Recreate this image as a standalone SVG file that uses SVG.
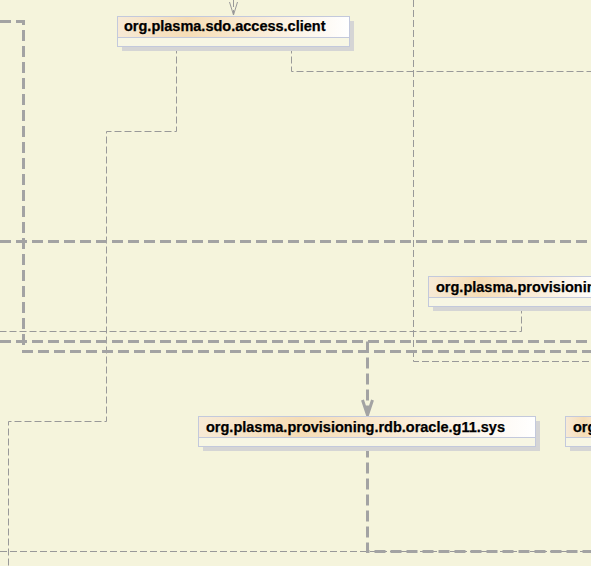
<svg xmlns="http://www.w3.org/2000/svg" width="591" height="566" viewBox="0 0 591 566">
<defs>
<linearGradient id="hdr" x1="0" y1="0" x2="1" y2="0">
<stop offset="0" stop-color="#F7EAD6"/>
<stop offset="0.3" stop-color="#F6DDB6"/>
<stop offset="1" stop-color="#FFFFFF"/>
</linearGradient>
<style>
.bg{fill:#F5F4DC}
.shadow{fill:#D5D5D5}
.box{fill:#F7F6E4;stroke:#C3C9DC;stroke-width:1}
.head{fill:url(#hdr)}
.div{stroke:#C3C9DC;stroke-width:1}
.lbl{font-family:"Liberation Sans",Arial,sans-serif;font-weight:bold;font-size:14.5px;fill:#000;stroke:#000;stroke-width:0.25}
.thin{fill:none;stroke:#999999;stroke-width:1;stroke-dasharray:7,3}
.thick{fill:none;stroke:#A3A3A3;stroke-width:3;stroke-dasharray:11,5}
.ahthin{fill:none;stroke:#999999;stroke-width:1}
.ahthick{fill:none;stroke:#A3A3A3;stroke-width:3}
</style>
</defs>
<rect class="bg" x="0" y="0" width="591" height="566"/>
<g id="connectors">
<path class="thin" d="M233.5,0 V15"/>
<path class="ahthin" d="M229.5,2 L233.5,15 L237.5,2"/>
<path class="thin" d="M176.5,46.5 V131.5 H106.5 V421.5 H8.5 V566"/>
<path class="thin" d="M291.5,46.5 V71.5 H591"/>
<path class="thin" d="M413.5,0 V361.5 H591"/>
<path class="thin" d="M521.5,306.5 V331.5 H0"/>
<path class="thin" d="M0,551.5 H591"/>
<path class="thick" d="M0,21.5 H23.5 V351.5 H591"/>
<path class="thick" d="M0,241.5 H591"/>
<path class="thick" d="M0,341.5 H591"/>
<path class="thick" d="M367.5,341.5 V414"/>
<path class="ahthick" d="M362.5,400 L367.5,415 L372.5,400"/>
<path class="thick" d="M367.5,446.5 V551.5 H591"/>
</g>
<g id="node-sdo-access-client">
<rect class="shadow" x="122" y="21" width="232" height="30"/>
<rect class="box" x="117.5" y="16.5" width="232" height="30"/>
<rect class="head" x="118" y="17" width="231" height="20.5"/>
<line class="div" x1="117.5" y1="37.5" x2="349.5" y2="37.5"/>
<text class="lbl" x="124" y="31">org.plasma.sdo.access.client</text>
</g>
<g id="node-provisioning">
<rect class="shadow" x="433" y="281" width="170" height="30"/>
<rect class="box" x="428.5" y="276.5" width="170" height="30"/>
<rect class="head" x="429" y="277" width="169" height="20.5"/>
<line class="div" x1="428.5" y1="297.5" x2="598" y2="297.5"/>
<text class="lbl" x="436" y="292">org.plasma.provisioning.rdb</text>
</g>
<g id="node-g11-sys">
<rect class="shadow" x="203" y="421" width="337" height="30"/>
<rect class="box" x="198.5" y="416.5" width="337" height="30"/>
<rect class="head" x="199" y="417" width="336" height="20.5"/>
<line class="div" x1="198.5" y1="437.5" x2="535.5" y2="437.5"/>
<text class="lbl" x="206" y="432">org.plasma.provisioning.rdb.oracle.g11.sys</text>
</g>
<g id="node-right">
<rect class="shadow" x="570" y="421" width="60" height="30"/>
<rect class="box" x="565.5" y="416.5" width="60" height="30"/>
<rect class="head" x="566" y="417" width="59" height="20.5"/>
<line class="div" x1="565.5" y1="437.5" x2="625" y2="437.5"/>
<text class="lbl" x="573" y="432">org</text>
</g>
</svg>
